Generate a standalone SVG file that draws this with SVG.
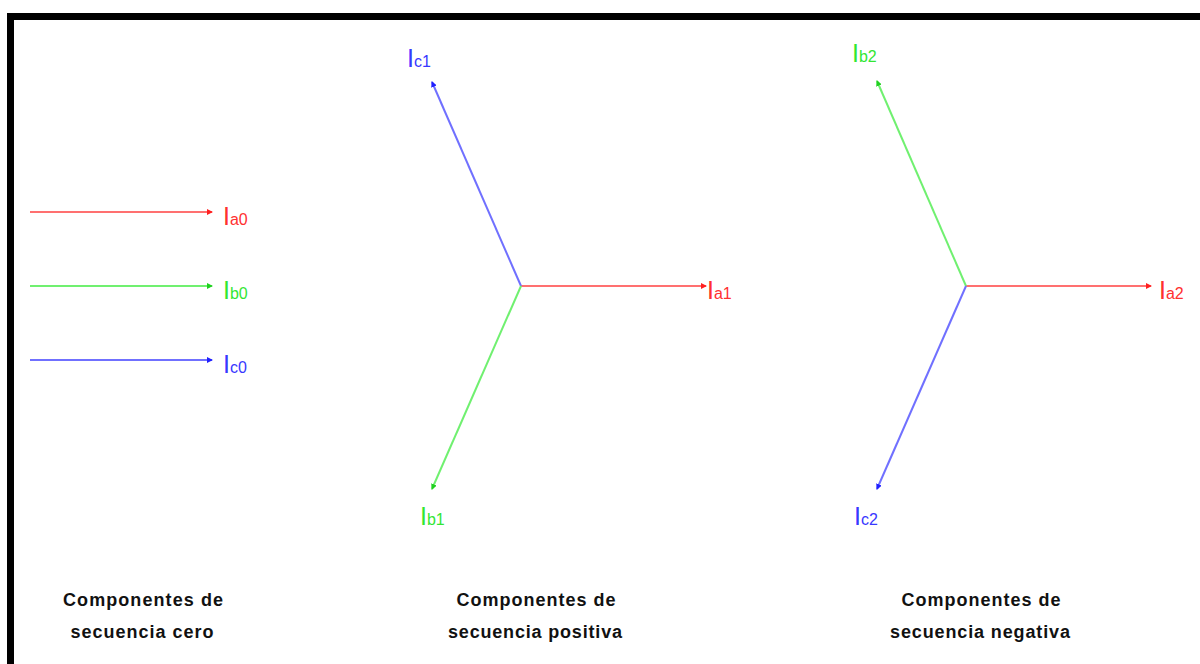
<svg xmlns="http://www.w3.org/2000/svg" width="1200" height="664" viewBox="0 0 1200 664">
<style>
.r{stroke:#ff7070;fill:#ff3030}
.g{stroke:#70f070;fill:#33e633}
.b{stroke:#7070ff;fill:#3838ff}
line{stroke-width:2}
.lbl{font-family:"Liberation Sans",Arial,sans-serif;stroke:none}
.big{font-size:25px}
.sub{font-size:16px}
.cap{font-family:"Liberation Sans",Arial,sans-serif;font-weight:bold;font-size:18px;fill:#111;text-anchor:middle}
</style>
<defs>
<marker id="ar" viewBox="0 0 6 6" refX="5" refY="3" markerWidth="6" markerHeight="6" markerUnits="userSpaceOnUse" orient="auto"><path d="M0,0 L6,3 L0,6 z" fill="#ff2020"/></marker>
<marker id="ag" viewBox="0 0 6 6" refX="5" refY="3" markerWidth="6" markerHeight="6" markerUnits="userSpaceOnUse" orient="auto"><path d="M0,0 L6,3 L0,6 z" fill="#20d020"/></marker>
<marker id="ab" viewBox="0 0 6 6" refX="5" refY="3" markerWidth="6" markerHeight="6" markerUnits="userSpaceOnUse" orient="auto"><path d="M0,0 L6,3 L0,6 z" fill="#2020ff"/></marker>
</defs>
<rect x="0" y="0" width="1200" height="664" fill="#fff"/>
<rect x="10.5" y="16.5" width="1300" height="800" fill="none" stroke="#000" stroke-width="7"/>
<g id="connectors">
<line class="r" x1="30" y1="212" x2="212" y2="212" marker-end="url(#ar)"/>
<line class="g" x1="30" y1="286" x2="212" y2="286" marker-end="url(#ag)"/>
<line class="b" x1="30" y1="360" x2="212" y2="360" marker-end="url(#ab)"/>
<line class="r" x1="521" y1="286" x2="706" y2="286" marker-end="url(#ar)"/>
<line class="b" x1="521" y1="286" x2="432" y2="82" marker-end="url(#ab)"/>
<line class="g" x1="521" y1="286" x2="432" y2="489" marker-end="url(#ag)"/>
<line class="r" x1="966" y1="286" x2="1151" y2="286" marker-end="url(#ar)"/>
<line class="g" x1="966" y1="286" x2="877" y2="81" marker-end="url(#ag)"/>
<line class="b" x1="966" y1="286" x2="877" y2="489" marker-end="url(#ab)"/>
</g>
<g id="Ia0"><text class="lbl r" x="223" y="225"><tspan class="big">I</tspan><tspan class="sub" dx="0">a0</tspan></text></g>
<g id="Ib0"><text class="lbl g" x="223" y="299"><tspan class="big">I</tspan><tspan class="sub" dx="0">b0</tspan></text></g>
<g id="Ic0"><text class="lbl b" x="223" y="373"><tspan class="big">I</tspan><tspan class="sub" dx="0">c0</tspan></text></g>
<g id="Ic1"><text class="lbl b" x="407" y="67"><tspan class="big">I</tspan><tspan class="sub" dx="0">c1</tspan></text></g>
<g id="Ia1"><text class="lbl r" x="707" y="299"><tspan class="big">I</tspan><tspan class="sub" dx="0">a1</tspan></text></g>
<g id="Ib1"><text class="lbl g" x="420" y="525"><tspan class="big">I</tspan><tspan class="sub" dx="0">b1</tspan></text></g>
<g id="Ib2"><text class="lbl g" x="852" y="62"><tspan class="big">I</tspan><tspan class="sub" dx="0">b2</tspan></text></g>
<g id="Ia2"><text class="lbl r" x="1159" y="299"><tspan class="big">I</tspan><tspan class="sub" dx="0">a2</tspan></text></g>
<g id="Ic2"><text class="lbl b" x="854" y="525"><tspan class="big">I</tspan><tspan class="sub" dx="0">c2</tspan></text></g>
<g id="cap0"><text class="cap" x="143" y="606" textLength="160" lengthAdjust="spacing">Componentes de</text><text class="cap" x="142" y="638" textLength="143" lengthAdjust="spacing">secuencia cero</text></g>
<g id="cap1"><text class="cap" x="536" y="606" textLength="159" lengthAdjust="spacing">Componentes de</text><text class="cap" x="535" y="638" textLength="174" lengthAdjust="spacing">secuencia positiva</text></g>
<g id="cap2"><text class="cap" x="981" y="606" textLength="159" lengthAdjust="spacing">Componentes de</text><text class="cap" x="980" y="638" textLength="180" lengthAdjust="spacing">secuencia negativa</text></g>
</svg>
